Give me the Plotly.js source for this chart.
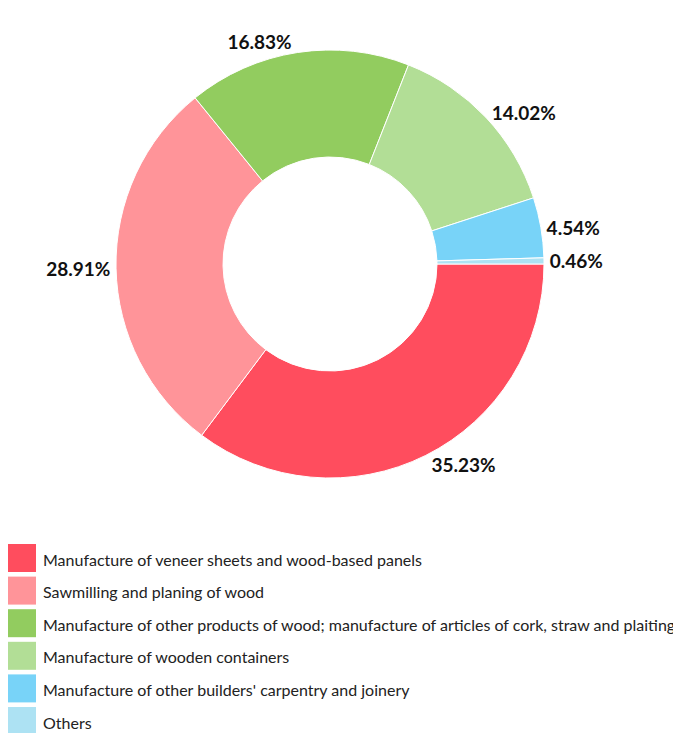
<!DOCTYPE html>
<html>
<head>
<meta charset="utf-8">
<script src="https://cdn.plot.ly/plotly-3.0.1.min.js"></script>
<style>html,body{margin:0;padding:0;background:#fff;}#chart{width:673px;height:733px;}</style>
</head>
<body>
<div id="chart"></div>
<script>
const categories = [
  "Manufacture of veneer sheets and wood-based panels",
  "Sawmilling and planing of wood",
  "Manufacture of other products of wood; manufacture of articles of cork, straw and plaiting materials",
  "Manufacture of wooden containers",
  "Manufacture of other builders' carpentry and joinery",
  "Others"
];
const shares = [35.23, 28.91, 16.83, 14.02, 4.54, 0.46];
const colors = ["#FF4D5E", "#FF9499", "#92CC5F", "#B2DE96", "#78D3F8", "#ADE2F3"];

const W = 673, H = 733;
const shapes = [], annotations = [];
categories.forEach((c, i) => {
  const top = 544 + i * 32.6;
  shapes.push({type: "rect", xref: "paper", yref: "paper",
    x0: 8 / W, x1: 36 / W, y0: 1 - (top + 28) / H, y1: 1 - top / H,
    fillcolor: colors[i], line: {width: 0}});
  annotations.push({xref: "paper", yref: "paper", x: 41 / W, y: 1 - (top + 15) / H,
    xanchor: "left", yanchor: "middle", showarrow: false, text: c,
    font: {family: "Lato, sans-serif", size: 16, color: "#222"}});
});

const data = [{
  type: "pie",
  labels: categories,
  values: shares,
  sort: false,
  direction: "clockwise",
  rotation: 90,
  hole: 0.5,
  marker: {colors: colors, line: {color: "#fff", width: 1}},
  textposition: "outside",
  texttemplate: "%{value:.2f}%",
  textfont: {family: "Lato, sans-serif", size: 19, color: "#111", weight: "bold"},
  outsidetextfont: {family: "Lato, sans-serif", size: 19, color: "#111", weight: "bold"},
  showlegend: false,
  automargin: false,
  domain: {x: [115 / W, 545 / W], y: [1 - 478 / H, 1 - 50 / H]}
}];

const layout = {
  width: W, height: H,
  margin: {l: 0, r: 0, t: 0, b: 0},
  paper_bgcolor: "#fff",
  showlegend: false,
  shapes: shapes,
  annotations: annotations
};

Plotly.newPlot("chart", data, layout, {displayModeBar: false, staticPlot: true});
</script>
</body>
</html>
